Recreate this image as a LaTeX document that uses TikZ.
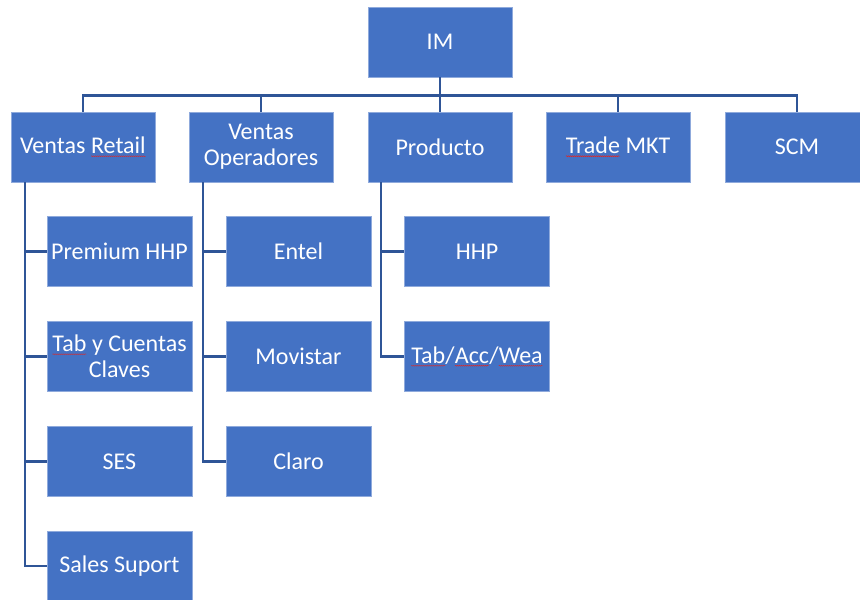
\documentclass[tikz,border=0pt]{standalone}
\usepackage{fontspec}
\setmainfont{Carlito}
\usetikzlibrary{decorations.pathmorphing}

\definecolor{boxblue}{RGB}{68,114,196}
\definecolor{boxedge}{RGB}{143,170,220}
\definecolor{linkblue}{RGB}{47,85,151}
\definecolor{spellred}{RGB}{220,40,40}

% word with a red wavy underline
\newcommand\squig[1]{\tikz[baseline=(w.base)]{%
  \node[inner sep=0pt,outer sep=0pt,text=white,draw=none,fill=none,minimum width=0pt,minimum height=0pt](w){#1};
  \draw[spellred,line width=0.4pt,decorate,decoration={snake,amplitude=0.5pt,segment length=2pt}]
    ([yshift=-2.5pt]w.base west) -- ([yshift=-2.5pt]w.base east);}}

\tikzset{
  orgbox/.style={draw=boxedge, line width=0.8pt, fill=boxblue, text=white,
    minimum width=144pt, minimum height=70pt, inner sep=0pt, align=center,
    font=\fontsize{24}{26}\selectfont},
  link/.style={draw=linkblue, line width=2.6pt}
}

\begin{document}
\begin{tikzpicture}[x=1pt,y=-1pt]
\useasboundingbox (0,0) rectangle (860,600);

% top level
\node[orgbox] (im) at (440,42) {IM};

% departments
\node[orgbox] (vr) at (83,147)  {Ventas \squig{Retail}};
\node[orgbox] (vo) at (261,147) {Ventas\\Operadores};
\node[orgbox] (pr) at (440,147) {Producto};
\node[orgbox] (tm) at (618,147) {\squig{Trade} MKT};
\node[orgbox] (sc) at (797,147) {SCM};

% Ventas Retail teams
\node[orgbox, minimum width=145pt] (ph) at (119.5,251.5) {Premium HHP};
\node[orgbox, minimum width=145pt] (tc) at (119.5,356.5) {\squig{Tab} y Cuentas\\Claves};
\node[orgbox, minimum width=145pt] (se) at (119.5,461.5) {SES};
\node[orgbox, minimum width=145pt] (ss) at (119.5,566)   {Sales Suport};

% Ventas Operadores teams
\node[orgbox, minimum width=145pt] (en) at (298.5,251.5) {Entel};
\node[orgbox, minimum width=145pt] (mv) at (298.5,356.5) {Movistar};
\node[orgbox, minimum width=145pt] (cl) at (298.5,461.5) {Claro};

% Producto teams
\node[orgbox, minimum width=145pt] (hh) at (477,251.5) {HHP};
\node[orgbox, minimum width=145pt] (ta) at (477,356.5) {\squig{Tab}/\squig{Acc}/\squig{Wea}};

% links from IM to departments
\foreach \d in {vr,vo,pr,tm,sc}
  \draw[link] (im.south) -- ++(0,18) -| (\d.north);

% links from departments to teams
\foreach \t in {ph,tc,se,ss}
  \draw[link] ([xshift=-58pt]vr.south) |- (\t.west);
\foreach \t in {en,mv,cl}
  \draw[link] ([xshift=-58pt]vo.south) |- (\t.west);
\foreach \t in {hh,ta}
  \draw[link] ([xshift=-59pt]pr.south) |- (\t.west);
\end{tikzpicture}
\end{document}
